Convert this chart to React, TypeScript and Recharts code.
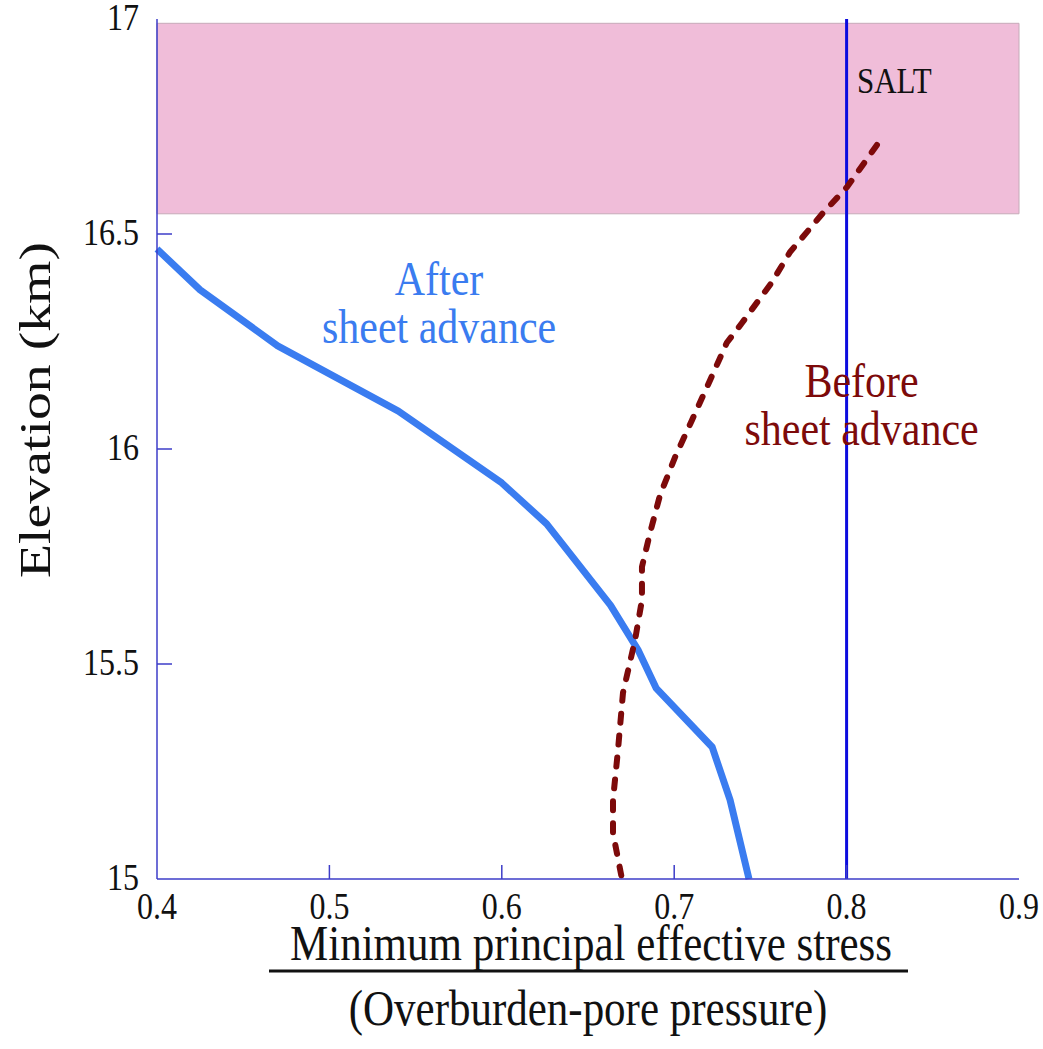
import React from 'react';
import { LineChart, Line, XAxis, YAxis, ReferenceArea, ReferenceLine, ReferenceDot } from 'recharts';

// axis ticks
const X_TICKS = [0.4, 0.5, 0.6, 0.7, 0.8, 0.9];
const Y_TICKS = [15, 15.5, 16, 16.5, 17];

// after sheet advance (solid blue)
const AFTER_STRESS = [0.4, 0.425, 0.47, 0.54, 0.6, 0.626, 0.663, 0.679, 0.6895, 0.722, 0.7324, 0.7434];
const AFTER_ELEV = [16.465, 16.37, 16.24, 16.088, 15.921, 15.826, 15.637, 15.533, 15.444, 15.307, 15.184, 15.0];

// before sheet advance (dashed dark red)
const BEFORE_STRESS = [
  0.8176, 0.8002, 0.7863, 0.7672, 0.7567, 0.7393, 0.7305, 0.7208, 0.7103, 0.7005, 0.6918, 0.686, 0.6813,
  0.6813, 0.6773, 0.6703, 0.6674, 0.6645, 0.6645, 0.6697,
];
const BEFORE_ELEV = [
  16.707, 16.609, 16.549, 16.458, 16.388, 16.293, 16.247, 16.16, 16.067, 15.981, 15.893, 15.805, 15.726,
  15.649, 15.556, 15.433, 15.3, 15.184, 15.107, 15.0,
];

// salt layer
const SALT_TOP = 16.99;
const SALT_BASE = 16.547;
const SALT_EDGE = 0.8;

const after = AFTER_STRESS.map((x, i) => ({ x, y: AFTER_ELEV[i] }));
const before = BEFORE_STRESS.map((x, i) => ({ x, y: BEFORE_ELEV[i] }));

const SERIF = '"Liberation Serif", "Times New Roman", serif';
const FRAME = '#3d3dc8';
const BLUE = '#3a7cf0';
const RED = '#7d0a0a';
const STRETCH = 1.17;

function SText({ x, y, anchor = 'middle', size, fill = '#111', children }: any) {
  return (
    <text
      transform={`translate(${x},${y}) scale(1,${STRETCH})`}
      textAnchor={anchor}
      fontSize={size}
      fontFamily={SERIF}
      fontWeight="normal"
      fill={fill}
      stroke="none"
    >
      {children}
    </text>
  );
}

function BottomTick({ x, y, payload }: any) {
  const v = payload.value;
  return (
    <g>
      {v > 0.4 && v < 0.9 && <line x1={x} y1={y} x2={x} y2={y - 14} stroke={FRAME} strokeWidth={1.5} />}
      <SText x={x} y={y + 40} size={32}>{v}</SText>
    </g>
  );
}

function TopTick({ x, y, payload }: any) {
  const v = payload.value;
  if (v <= 0.4 || v >= 0.9) return <g />;
  return <line x1={x} y1={y} x2={x} y2={y + 14} stroke={FRAME} strokeWidth={1.5} />;
}

function LeftTick({ x, y, payload }: any) {
  const v = payload.value;
  return (
    <g>
      {v > 15 && v < 17 && <line x1={x} y1={y} x2={x + 15} y2={y} stroke={FRAME} strokeWidth={1.5} />}
      <SText x={x - 18} y={y + 11} anchor="end" size={32}>{v}</SText>
    </g>
  );
}

function RightTick({ x, y, payload }: any) {
  const v = payload.value;
  if (v <= 15 || v >= 17) return <g />;
  return <line x1={x} y1={y} x2={x - 15} y2={y} stroke={FRAME} strokeWidth={1.5} />;
}

// both axis titles, placed from the bottom axis box (plot spans 860px above it)
function Titles({ viewBox }: any) {
  const cx = viewBox.x + viewBox.width / 2;
  const y = viewBox.y;
  const plotMid = y - 430;
  return (
    <g>
      <SText x={cx + 3} y={y + 81} size={43}>Minimum principal effective stress</SText>
      <line x1={cx - 319} x2={cx + 320} y1={y + 92} y2={y + 92} stroke="#111" strokeWidth={3} />
      <SText x={cx} y={y + 146} size={43}>(Overburden-pore pressure)</SText>
      <text
        transform={`translate(${viewBox.x - 107},${plotMid - 39}) scale(1,1.24) rotate(-90)`}
        textAnchor="middle"
        fontSize={45}
        fontFamily={SERIF}
        fontWeight="normal"
        fill="#111"
        stroke="none"
      >
        Elevation (km)
      </text>
    </g>
  );
}

const note = (lines: string[], fill: string, size: number, anchor = 'middle', gap = 48) => (p: any) => (
  <g>
    {lines.map((t, i) => (
      <SText key={i} x={p.cx} y={p.cy + i * gap} anchor={anchor} size={size} fill={fill}>{t}</SText>
    ))}
  </g>
);

export default function App() {
  return (
    <div style={{ position: 'absolute', left: 0, top: 0 }}>
      <LineChart width={1043} height={1049} margin={{ top: 19, right: 24, bottom: 0, left: 0 }}>
        <XAxis
          xAxisId="b"
          type="number"
          dataKey="x"
          domain={[0.4, 0.9]}
          ticks={X_TICKS}
          interval={0}
          height={170}
          tickSize={0}
          tickMargin={0}
          tickLine={false}
          axisLine={{ stroke: FRAME, strokeWidth: 1.5 }}
          tick={<BottomTick />}
          label={{ content: Titles }}
        />
        <XAxis
          xAxisId="t"
          orientation="top"
          type="number"
          dataKey="x"
          domain={[0.4, 0.9]}
          ticks={X_TICKS}
          interval={0}
          height={0}
          tickSize={0}
          tickMargin={0}
          tickLine={false}
          axisLine={{ stroke: FRAME, strokeWidth: 1.5 }}
          tick={<TopTick />}
        />
        <YAxis
          yAxisId="l"
          type="number"
          dataKey="y"
          domain={[15, 17]}
          ticks={Y_TICKS}
          interval={0}
          width={157}
          tickSize={0}
          tickMargin={0}
          tickLine={false}
          axisLine={{ stroke: FRAME, strokeWidth: 1.5 }}
          tick={<LeftTick />}
        />
        <YAxis
          yAxisId="r"
          orientation="right"
          type="number"
          dataKey="y"
          domain={[15, 17]}
          ticks={Y_TICKS}
          interval={0}
          width={0}
          tickSize={0}
          tickMargin={0}
          tickLine={false}
          axisLine={{ stroke: FRAME, strokeWidth: 1.5 }}
          tick={<RightTick />}
        />
        <ReferenceArea
          xAxisId="b"
          yAxisId="l"
          x1={0.4}
          x2={0.9}
          y1={SALT_BASE}
          y2={SALT_TOP}
          fill="#f0bdd9"
          fillOpacity={1}
          stroke="#c6aab9"
          strokeWidth={1}
        />
        <ReferenceLine xAxisId="b" yAxisId="l" x={SALT_EDGE} stroke="#0c0cde" strokeWidth={3} />
        <Line
          xAxisId="b"
          yAxisId="l"
          data={after}
          dataKey="y"
          type="linear"
          stroke={BLUE}
          strokeWidth={7}
          strokeLinejoin="round"
          dot={false}
          isAnimationActive={false}
        />
        <Line
          xAxisId="b"
          yAxisId="l"
          data={before}
          dataKey="y"
          type="linear"
          stroke={RED}
          strokeWidth={6}
          strokeDasharray="9 13"
          strokeLinecap="round"
          dot={false}
          isAnimationActive={false}
        />
        <ReferenceDot xAxisId="b" yAxisId="l" x={0.5636} y={16.358} r={0} shape={note(['After', 'sheet advance'], BLUE, 42)} />
        <ReferenceDot xAxisId="b" yAxisId="l" x={0.8087} y={16.121} r={0} shape={note(['Before', 'sheet advance'], RED, 42)} />
        <ReferenceDot xAxisId="b" yAxisId="l" x={0.806} y={16.828} r={0} shape={note(['SALT'], '#111', 31, 'start')} />
      </LineChart>
    </div>
  );
}
